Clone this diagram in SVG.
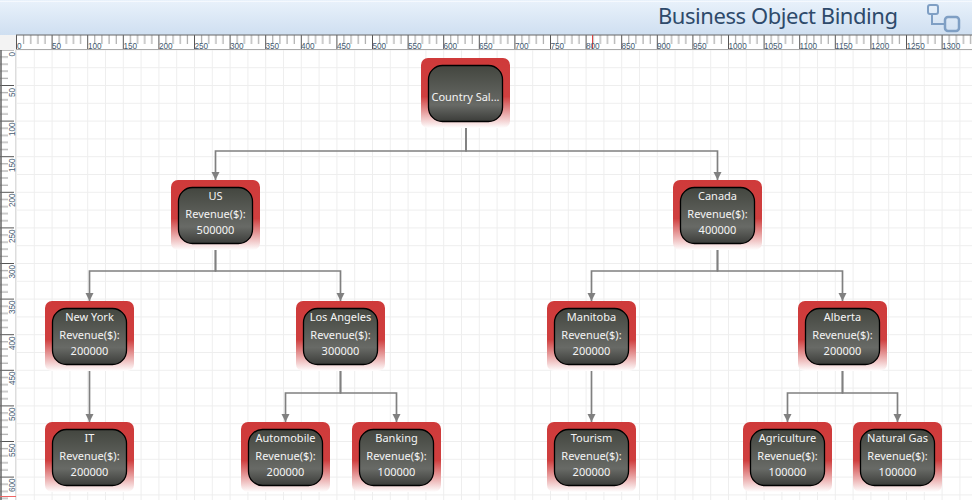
<svg xmlns="http://www.w3.org/2000/svg" width="972" height="500" viewBox="0 0 972 500">
<style>
.n{font:11px "Noto Sans","Open Sans",sans-serif;fill:#f4f4f4;text-anchor:middle;dominant-baseline:central}
.r{font:8.2px "Liberation Sans",sans-serif;fill:#445a70}
.c{fill:none;stroke:#808080;stroke-width:1.7;marker-end:url(#ah)}
</style>
<defs>
<linearGradient id="hd" x1="0" y1="0" x2="0" y2="1"><stop offset="0" stop-color="#e9f2fb"/><stop offset="1" stop-color="#cfdff1"/></linearGradient>
<linearGradient id="ou" x1="0" y1="0" x2="0" y2="1"><stop offset="0" stop-color="#cf3a3a"/><stop offset="0.55" stop-color="#cf3f3f"/><stop offset="1" stop-color="#ffffff"/></linearGradient>
<linearGradient id="inn" x1="0" y1="0" x2="0" y2="1"><stop offset="0" stop-color="#43463f"/><stop offset="0.7" stop-color="#686a66"/><stop offset="1" stop-color="#3b3c39"/></linearGradient>
<pattern id="g" x="16" y="49.4" width="17.8" height="17.8" patternUnits="userSpaceOnUse"><path d="M0.5 0V17.8M0 0.5H17.8" fill="none" stroke="#eeeeee" stroke-width="1"/></pattern>
<pattern id="hr" x="16" y="35" width="35.6" height="15" patternUnits="userSpaceOnUse"><path d="M0.5 0V14" stroke="#555" fill="none"/><path d="M7.62 0V9M14.74 0V9M21.86 0V9M28.98 0V9" stroke="#999" fill="none"/></pattern>
<pattern id="vr" x="0" y="49.4" width="16" height="35.6" patternUnits="userSpaceOnUse"><path d="M0 0.5H14" stroke="#555" fill="none"/><path d="M0 7.62H8M0 14.74H8M0 21.86H8M0 28.98H8" stroke="#999" fill="none"/></pattern>
<marker id="ah" markerUnits="userSpaceOnUse" markerWidth="9" markerHeight="9" refX="8" refY="4" orient="auto"><path d="M0 0L8 4L0 8Z" fill="#808080"/></marker>
<g id="box"><rect x="0" y="0" width="89" height="70" rx="7" fill="url(#ou)"/><rect x="7.5" y="7.5" width="74" height="56" rx="14" fill="url(#inn)" stroke="#000" stroke-width="1.3"/></g>
</defs>
<rect width="972" height="500" fill="#fff"/>
<g id="canvas"><rect x="16" y="49" width="956" height="451" fill="url(#g)"/></g>
<g id="header">
<rect width="972" height="35" fill="url(#hd)"/>
<path d="M0 1.5H972" stroke="#f5f9fe"/>
<text x="658" y="24" font-family="'Noto Sans','Open Sans',sans-serif" font-size="22" fill="#2e4a6b" textLength="240">Business Object Binding</text>
<g fill="none" stroke="#7f9fc4" stroke-width="2"><rect x="928" y="5" width="10" height="9" rx="2"/><rect x="945" y="17" width="14" height="14" rx="3" stroke-width="2.5"/><path d="M932 14V24H945"/></g>
</g>
<g id="rulers">
<rect x="0" y="35" width="16" height="15" fill="#f3f3f3"/>
<rect x="16" y="35" width="956" height="14" fill="#fff"/>
<rect x="16" y="35" width="956" height="14" fill="url(#hr)"/>
<path d="M16 35H972" stroke="#666" stroke-width="1"/><path d="M16 49.5H972" stroke="#aaa"/>
<rect x="0" y="50" width="16" height="450" fill="#fff"/>
<rect x="0" y="50" width="16" height="450" fill="url(#vr)"/>
<path d="M1 50V500" stroke="#666" stroke-width="1.5"/>
<path d="M15.5 50V500" stroke="#ddd"/>
<path d="M592.5 35V49" stroke="#d44"/><path d="M0 496.5H16" stroke="#e66"/>
<g class="r">
<text x="17" y="48.5">0</text><text x="52" y="48.5">50</text><text x="88" y="48.5">100</text><text x="123.5" y="48.5">150</text><text x="159" y="48.5">200</text><text x="194.5" y="48.5">250</text><text x="230" y="48.5">300</text><text x="265.5" y="48.5">350</text><text x="301" y="48.5">400</text><text x="337" y="48.5">450</text><text x="372.5" y="48.5">500</text><text x="408" y="48.5">550</text><text x="443.5" y="48.5">600</text><text x="479" y="48.5">650</text><text x="515" y="48.5">700</text><text x="550.5" y="48.5">750</text><text x="586" y="48.5">800</text><text x="621.5" y="48.5">850</text><text x="657" y="48.5">900</text><text x="693" y="48.5">950</text><text x="728.5" y="48.5">1000</text><text x="764" y="48.5">1050</text><text x="799.5" y="48.5">1100</text><text x="835" y="48.5">1150</text><text x="871" y="48.5">1200</text><text x="906.5" y="48.5">1250</text><text x="942" y="48.5">1300</text>
<text transform="translate(15 56.5) rotate(-90)">0</text><text transform="translate(15 97) rotate(-90)">50</text><text transform="translate(15 136) rotate(-90)">100</text><text transform="translate(15 172) rotate(-90)">150</text><text transform="translate(15 207) rotate(-90)">200</text><text transform="translate(15 243) rotate(-90)">250</text><text transform="translate(15 278.5) rotate(-90)">300</text><text transform="translate(15 314) rotate(-90)">350</text><text transform="translate(15 350) rotate(-90)">400</text><text transform="translate(15 385) rotate(-90)">450</text><text transform="translate(15 421) rotate(-90)">500</text><text transform="translate(15 457) rotate(-90)">550</text><text transform="translate(15 492) rotate(-90)">600</text>
</g>
</g>
<g id="connectors">
<path class="c" d="M466 128V151H215.5V180"/>
<path class="c" d="M466 128V151H717.5V180"/>
<path class="c" d="M215.5 250V271H89.5V301"/>
<path class="c" d="M215.5 250V271H340.5V301"/>
<path class="c" d="M717.5 250V271H591.5V301"/>
<path class="c" d="M717.5 250V271H842.5V301"/>
<path class="c" d="M89.5 371V422"/>
<path class="c" d="M340.5 371V393H285.5V422"/>
<path class="c" d="M340.5 371V393H396.5V422"/>
<path class="c" d="M591.5 371V422"/>
<path class="c" d="M842.5 371V393H787.5V422"/>
<path class="c" d="M842.5 371V393H897.5V422"/>
</g>
<g id="n-root" transform="translate(421 58)"><use href="#box"/><text class="n" x="44.5" y="38.5">Country Sal...</text></g>
<g id="n-us" transform="translate(171 180)"><use href="#box"/><text class="n" x="44.5" y="15.5">US</text><text class="n" x="44.5" y="33.5">Revenue($):</text><text class="n" x="44.5" y="49.5">500000</text></g>
<g id="n-canada" transform="translate(673 180)"><use href="#box"/><text class="n" x="44.5" y="15.5">Canada</text><text class="n" x="44.5" y="33.5">Revenue($):</text><text class="n" x="44.5" y="49.5">400000</text></g>
<g id="n-newyork" transform="translate(45 301)"><use href="#box"/><text class="n" x="44.5" y="15.5">New York</text><text class="n" x="44.5" y="33.5">Revenue($):</text><text class="n" x="44.5" y="49.5">200000</text></g>
<g id="n-losangeles" transform="translate(296 301)"><use href="#box"/><text class="n" x="44.5" y="15.5">Los Angeles</text><text class="n" x="44.5" y="33.5">Revenue($):</text><text class="n" x="44.5" y="49.5">300000</text></g>
<g id="n-manitoba" transform="translate(547 301)"><use href="#box"/><text class="n" x="44.5" y="15.5">Manitoba</text><text class="n" x="44.5" y="33.5">Revenue($):</text><text class="n" x="44.5" y="49.5">200000</text></g>
<g id="n-alberta" transform="translate(798 301)"><use href="#box"/><text class="n" x="44.5" y="15.5">Alberta</text><text class="n" x="44.5" y="33.5">Revenue($):</text><text class="n" x="44.5" y="49.5">200000</text></g>
<g id="n-it" transform="translate(45 422)"><use href="#box"/><text class="n" x="44.5" y="15.5">IT</text><text class="n" x="44.5" y="33.5">Revenue($):</text><text class="n" x="44.5" y="49.5">200000</text></g>
<g id="n-automobile" transform="translate(241 422)"><use href="#box"/><text class="n" x="44.5" y="15.5">Automobile</text><text class="n" x="44.5" y="33.5">Revenue($):</text><text class="n" x="44.5" y="49.5">200000</text></g>
<g id="n-banking" transform="translate(352 422)"><use href="#box"/><text class="n" x="44.5" y="15.5">Banking</text><text class="n" x="44.5" y="33.5">Revenue($):</text><text class="n" x="44.5" y="49.5">100000</text></g>
<g id="n-tourism" transform="translate(547 422)"><use href="#box"/><text class="n" x="44.5" y="15.5">Tourism</text><text class="n" x="44.5" y="33.5">Revenue($):</text><text class="n" x="44.5" y="49.5">200000</text></g>
<g id="n-agriculture" transform="translate(743 422)"><use href="#box"/><text class="n" x="44.5" y="15.5">Agriculture</text><text class="n" x="44.5" y="33.5">Revenue($):</text><text class="n" x="44.5" y="49.5">100000</text></g>
<g id="n-naturalgas" transform="translate(853 422)"><use href="#box"/><text class="n" x="44.5" y="15.5">Natural Gas</text><text class="n" x="44.5" y="33.5">Revenue($):</text><text class="n" x="44.5" y="49.5">100000</text></g>
</svg>
